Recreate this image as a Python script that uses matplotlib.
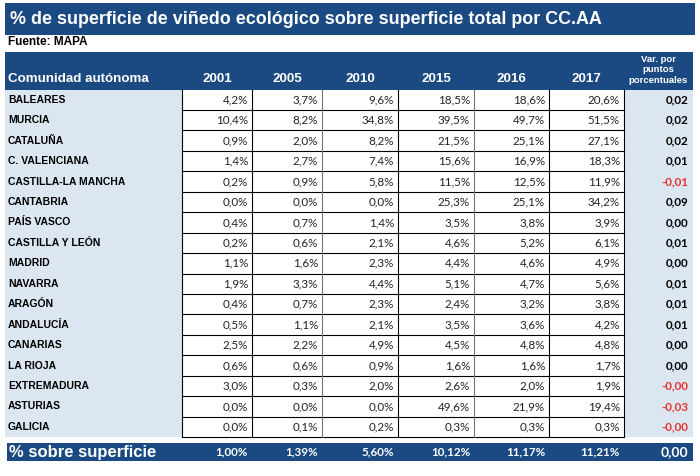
import matplotlib.pyplot as plt
from matplotlib.patches import Rectangle

dpi = 100
W, H = 700, 476

title = "% de superficie de viñedo ecológico sobre superficie total por CC.AA"
source = "Fuente: MAPA"
years = ["2001", "2005", "2010", "2015", "2016", "2017"]
var_header = "Var. por\npuntos\nporcentuales"

regions = ["BALEARES", "MURCIA", "CATALUÑA", "C. VALENCIANA", "CASTILLA-LA MANCHA",
           "CANTABRIA", "PAÍS VASCO", "CASTILLA Y LEÓN", "MADRID", "NAVARRA",
           "ARAGÓN", "ANDALUCÍA", "CANARIAS", "LA RIOJA", "EXTREMADURA",
           "ASTURIAS", "GALICIA"]
# % of organic vineyard per year (2001, 2005, 2010, 2015, 2016, 2017)
values = [
    [4.2, 3.7, 9.6, 18.5, 18.6, 20.6],
    [10.4, 8.2, 34.8, 39.5, 49.7, 51.5],
    [0.9, 2.0, 8.2, 21.5, 25.1, 27.1],
    [1.4, 2.7, 7.4, 15.6, 16.9, 18.3],
    [0.2, 0.9, 5.8, 11.5, 12.5, 11.9],
    [0.0, 0.0, 0.0, 25.3, 25.1, 34.2],
    [0.4, 0.7, 1.4, 3.5, 3.8, 3.9],
    [0.2, 0.6, 2.1, 4.6, 5.2, 6.1],
    [1.1, 1.6, 2.3, 4.4, 4.6, 4.9],
    [1.9, 3.3, 4.4, 5.1, 4.7, 5.6],
    [0.4, 0.7, 2.3, 2.4, 3.2, 3.8],
    [0.5, 1.1, 2.1, 3.5, 3.6, 4.2],
    [2.5, 2.2, 4.9, 4.5, 4.8, 4.8],
    [0.6, 0.6, 0.9, 1.6, 1.6, 1.7],
    [3.0, 0.3, 2.0, 2.6, 2.0, 1.9],
    [0.0, 0.0, 0.0, 49.6, 21.9, 19.4],
    [0.0, 0.1, 0.2, 0.3, 0.3, 0.3],
]
var_pts = ["0,02", "0,02", "0,02", "0,01", "-0,01", "0,09", "0,00", "0,01", "0,00",
           "0,01", "0,01", "0,01", "0,00", "0,00", "-0,00", "-0,03", "-0,00"]
total_label = "% sobre superficie"
totals = ["1,00%", "1,39%", "5,60%", "10,12%", "11,17%", "11,21%"]
total_var = "0,00"

dark = "#1b4a82"
light = "#dce6f1"
red = "#e8322e"
label_font = "Liberation Sans"
num_font = "Lato"

fig = plt.figure(figsize=(W / dpi, H / dpi), dpi=dpi)
ax = fig.add_axes([0, 0, 1, 1])
ax.set_xlim(0, W)
ax.set_ylim(H, 0)
ax.axis("off")

# column edges (pixels)
edges = [182, 252, 322, 398, 474, 549, 624, 693]
row_top, row_h = 89.5, 20.45
n = len(regions)
body_bottom = row_top + n * row_h

# title bar
ax.add_patch(Rectangle((5, 3), 690, 32, color=dark, lw=0))
ax.text(10, 19.5, title, color="white", fontsize=12.9, fontweight="bold",
        family=label_font, va="center", ha="left")
ax.text(8, 42, source, color="black", fontsize=8.5, fontweight="bold",
        family=label_font, va="center", ha="left")

# header bar
ax.add_patch(Rectangle((5, 52), 688, row_top - 52, color=dark, lw=0))
ax.text(8, 79, "Comunidad autónoma", color="white", fontsize=9.6, fontweight="bold",
        family=label_font, va="center", ha="left")
for i, y in enumerate(years):
    ax.text((edges[i] + edges[i + 1]) / 2, 79, y, color="white", fontsize=9.6,
            fontweight="bold", family=label_font, va="center", ha="center")
ax.text((edges[6] + edges[7]) / 2, 70, var_header, color="white", fontsize=6.8,
        fontweight="bold", family=label_font, va="center", ha="center",
        linespacing=1.25)

# shaded columns
ax.add_patch(Rectangle((5, row_top), edges[0] - 5, n * row_h, color=light, lw=0))
ax.add_patch(Rectangle((edges[6], row_top), edges[7] - edges[6], n * row_h,
                       color=light, lw=0))

for r, name in enumerate(regions):
    yc = row_top + (r + 0.5) * row_h
    ax.text(8, yc, name, color="black", fontsize=7.5, fontweight="bold",
            family=label_font, va="center", ha="left")
    for c, v in enumerate(values[r]):
        txt = f"{v:.1f}%".replace(".", ",")
        ax.text(edges[c + 1] - 4, yc, txt, color="#222222", fontsize=8.4,
                family=num_font, va="center", ha="right")
    vp = var_pts[r]
    ax.text(edges[7] - 5, yc, vp, color=red if vp.startswith("-") else "black",
            fontsize=8.4, fontweight="bold", family=num_font, va="center", ha="right")
    yb = row_top + (r + 1) * row_h
    ax.plot([edges[0], edges[6]], [yb, yb], color="black", lw=0.8)

for x in edges[:7]:
    col = "#777777" if x in (322, 474) else "black"
    ax.plot([x, x], [row_top, body_bottom], color=col, lw=0.8)

# footer bar
ax.add_patch(Rectangle((7, 443), 686, 18, color=dark, lw=0))
ax.text(9, 452, total_label, color="white", fontsize=12, fontweight="bold",
        family=label_font, va="center", ha="left")
for c, t in enumerate(totals):
    ax.text(edges[c + 1] - 4, 452, t, color="white", fontsize=8.4, fontweight="bold",
            family=num_font, va="center", ha="right")
ax.text(edges[7] - 5, 452, total_var, color="white", fontsize=10, fontweight="bold",
        family=num_font, va="center", ha="right")

fig.savefig("out.png", dpi=dpi)
